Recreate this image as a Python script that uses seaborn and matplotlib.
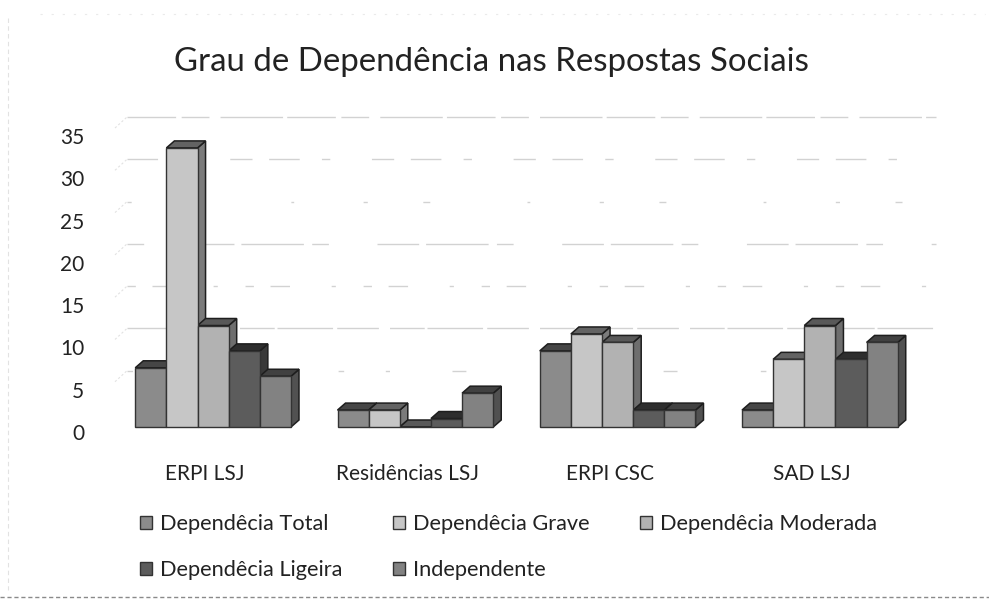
import matplotlib
matplotlib.use("Agg")
import matplotlib.pyplot as plt
from matplotlib.patches import Polygon
from matplotlib.transforms import ScaledTranslation, IdentityTransform
from matplotlib.colors import to_rgb
import seaborn as sns
import pandas as pd

categories = ["ERPI LSJ", "Residências LSJ", "ERPI CSC", "SAD LSJ"]
series = ["Dependêcia Total", "Dependêcia Grave", "Dependêcia Moderada", "Dependêcia Ligeira", "Independente"]
dep_total = [7, 2, 9, 2]
dep_grave = [33, 2, 11, 8]
dep_moderada = [12, 0, 10, 12]
dep_ligeira = [9, 1, 2, 8]
independente = [6, 4, 2, 10]
yticks = [0, 5, 10, 15, 20, 25, 30, 35]
colors = ["#8b8b8b", "#c6c6c6", "#b2b2b2", "#5c5c5c", "#828282"]

rows = []
for name, vals in zip(series, [dep_total, dep_grave, dep_moderada, dep_ligeira, independente]):
    for c, v in zip(categories, vals):
        rows.append({"cat": c, "serie": name, "valor": v})
df = pd.DataFrame(rows)

W, H = 989, 600
sns.set_theme(style="white")
plt.rcParams["font.family"] = ["Lato", "DejaVu Sans"]
fig = plt.figure(figsize=(W / 100, H / 100), dpi=100, facecolor="white")
left, right, bottom, top = 112, 921, 427, 131
ax = fig.add_axes([left / W, 1 - bottom / H, (right - left) / W, (bottom - top) / H])

sns.barplot(data=df, x="cat", y="valor", hue="serie", order=categories, hue_order=series,
            palette=colors, width=0.77, gap=0, saturation=1, ax=ax, zorder=3,
            edgecolor="#333333", linewidth=1.0)
ax.set_xlim(-0.5, 3.5)
ax.set_ylim(0, 35)
ax.set_xlabel("")
ax.set_ylabel("")
ax.set_yticks(yticks)
for s in ax.spines.values():
    s.set_visible(False)

ax.tick_params(axis="y", length=0, pad=20, labelsize=15, labelcolor="#222222")
ax.tick_params(axis="x", length=0, pad=27, labelsize=15, labelcolor="#222222")
for t in ax.get_yticklabels():
    t.set_transform(t.get_transform() + ScaledTranslation(0, -5 / 100, fig.dpi_scale_trans))
for t in ax.get_xticklabels():
    t.set_transform(t.get_transform() + ScaledTranslation(-8 / 100, 0, fig.dpi_scale_trans))

# back wall gridlines, broken up unevenly as in the scan
wall = ax.transData + ScaledTranslation(15 / 100, 14 / 100, fig.dpi_scale_trans)
dashes = {
    5: (0, (4, 30, 3, 45, 10, 60)),
    10: (0, (40, 3, 30, 8, 25, 2)),
    15: (0, (6, 12, 14, 30, 3, 20)),
    20: (0, (12, 35, 30, 5, 45, 6)),
    25: (0, (3, 40, 5, 70, 2, 50)),
    30: (0, (22, 16, 6, 30, 16, 12)),
    35: (0, (35, 4, 20, 8, 45, 3)),
}
for v in yticks[1:]:
    ax.plot([-0.5, 3.5], [v, v], transform=wall, color="#d2d2d2", lw=1.0, zorder=1, clip_on=False,
            linestyle=dashes[v])
    x0, y0 = ax.transData.transform((-0.5, v))
    ax.plot([x0 + 3, x0 + 15], [y0 + 3, y0 + 14], transform=IdentityTransform(), color="#e2e2e2",
            lw=0.8, ls=(0, (2, 2)), clip_on=False, zorder=1)

# depth faces derived from the bars that seaborn drew
dx, dy = 8, 7
fig.canvas.draw()
for cont, col in zip(ax.containers, colors):
    rgb = to_rgb(col)
    side = tuple(c * 0.62 for c in rgb)
    topc = tuple(c * 0.5 for c in rgb)
    for bar in cont:
        (x0, y0), (x1, y1) = ax.transData.transform(
            [(bar.get_x(), 0), (bar.get_x() + bar.get_width(), bar.get_height())])
        z = 2 + 0.01 * x0 / W
        ax.add_patch(Polygon([(x1, y0), (x1 + dx, y0 + dy), (x1 + dx, y1 + dy), (x1, y1)],
                             transform=IdentityTransform(), facecolor=side, edgecolor="#1e1e1e",
                             lw=1.1, zorder=z, clip_on=False))
        ax.add_patch(Polygon([(x0, y1), (x1, y1), (x1 + dx, y1 + dy), (x0 + dx, y1 + dy)],
                             transform=IdentityTransform(), facecolor=topc, edgecolor="#1e1e1e",
                             lw=1.1, zorder=z, clip_on=False))
        bar.set_clip_on(False)

handles, labels = ax.get_legend_handles_labels()
order = [0, 3, 1, 4, 2]
ax.legend([handles[i] for i in order], [labels[i] for i in order], ncols=3, frameon=False,
          fontsize=15.7, loc="upper left",
          bbox_to_anchor=(140 / W, 1 - 514 / H), bbox_transform=fig.transFigure,
          handlelength=0.56, handleheight=0.56, handletextpad=0.37, columnspacing=2.3,
          labelspacing=1.2, labelcolor="#222222", borderpad=0, borderaxespad=0)

fig.text(491 / W, 1 - 62 / H, "Grau de Dependência nas Respostas Sociais", ha="center", va="center",
         fontsize=23.8, color="#222222")

# faint scan border of the chart frame
fig.add_artist(plt.Line2D([8 / W, 8 / W], [1 - 18 / H, 1 - 590 / H], color="#e2e2e2", lw=0.8, ls=(0, (4, 3))))
fig.add_artist(plt.Line2D([40 / W, 985 / W], [1 - 14 / H, 1 - 14 / H], color="#eaeaea", lw=0.8, ls=(0, (2, 8))))
fig.add_artist(plt.Line2D([0, 1], [1 - 597 / H, 1 - 597 / H], color="#8a8a8a", lw=1.0, ls=(0, (3, 2))))

fig.savefig("out.png", dpi=100)
